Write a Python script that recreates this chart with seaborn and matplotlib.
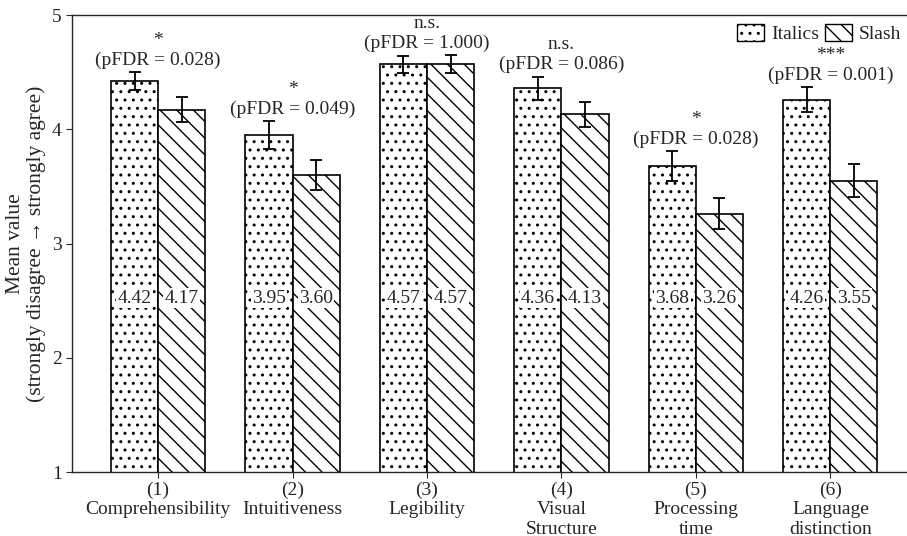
import pandas as pd
import seaborn as sns
import matplotlib.pyplot as plt
from matplotlib.patches import Patch

categories = ["(1)\nComprehensibility", "(2)\nIntuitiveness", "(3)\nLegibility",
              "(4)\nVisual\nStructure", "(5)\nProcessing\ntime", "(6)\nLanguage\ndistinction"]
italics = [4.42, 3.95, 4.57, 4.36, 3.68, 4.26]
slash = [4.17, 3.60, 4.57, 4.13, 3.26, 3.55]
italics_err = [0.08, 0.12, 0.075, 0.10, 0.13, 0.11]
slash_err = [0.11, 0.13, 0.08, 0.11, 0.134, 0.145]
sig = ["*", "*", "n.s.", "n.s.", "*", "***"]
pfdr = ["0.028", "0.049", "1.000", "0.086", "0.028", "0.001"]
groups = ["Italics", "Slash"]

df = pd.DataFrame({
    "cat": categories * 2,
    "style": ["Italics"] * 6 + ["Slash"] * 6,
    "mean": italics + slash,
    "err": italics_err + slash_err,
})

sns.set_style("ticks")
plt.rcParams["font.family"] = ["Liberation Serif", "DejaVu Serif"]
plt.rcParams["font.size"] = 14
plt.rcParams["hatch.linewidth"] = 1.0

fig = plt.figure(figsize=(9.07, 5.36), dpi=100)
ax = fig.add_axes([0.0794, 0.1194, 0.9206, 0.8526])

sns.barplot(data=df, x="cat", y="mean", hue="style", order=categories, hue_order=groups,
            palette=["white", "white"], edgecolor="black", linewidth=1.2, width=0.7,
            errorbar=None, legend=False, ax=ax)

hatches = {"Italics": "..", "Slash": "\\\\"}
bars = ax.patches[:12]
for i, p in enumerate(bars):
    style = groups[i // 6]
    p.set_hatch(hatches[style])
    row = df.iloc[i]
    cx = p.get_x() + p.get_width() / 2
    ax.errorbar(cx, row["mean"], yerr=row["err"], color="black", capsize=4.3, elinewidth=1.3,
                capthick=1.3)
    ax.text(cx, 2.52, f"{row['mean']:.2f}", ha="center", va="center", fontsize=14,
            bbox=dict(facecolor="white", edgecolor="none", pad=1.0))

for j in range(6):
    top = max(italics[j] + italics_err[j], slash[j] + slash_err[j])
    ax.text(j, top + 0.03, f"{sig[j]}\n(pFDR = {pfdr[j]})", ha="center", va="bottom",
            fontsize=14, linespacing=1.2)

ax.set_ylim(1, 5)
ax.set_xlim(-0.64, 5.57)
ax.set_yticks([1, 2, 3, 4, 5])
ax.set_xlabel("")
ax.set_ylabel("Mean value\n(strongly disagree \u2192 strongly agree)", fontsize=15.5,
              linespacing=1.1)
ax.tick_params(axis="both", labelsize=14, direction="out", length=4)
ax.tick_params(axis="x", pad=3)
for lab in ax.get_xticklabels():
    lab.set_linespacing(1.18)
ax.spines["right"].set_visible(False)
for s in ["left", "bottom", "top"]:
    ax.spines[s].set_linewidth(1.0)

handles = [Patch(facecolor="white", edgecolor="black", hatch=hatches[g]) for g in groups]
ax.legend(handles, groups, loc="upper right", bbox_to_anchor=(1.0, 0.993), ncol=2,
          frameon=False, handlelength=1.4, handleheight=1.0, handletextpad=0.35,
          columnspacing=0.3, borderaxespad=0.0, borderpad=0.3, fontsize=14)

fig.savefig("out.png", dpi=100)
